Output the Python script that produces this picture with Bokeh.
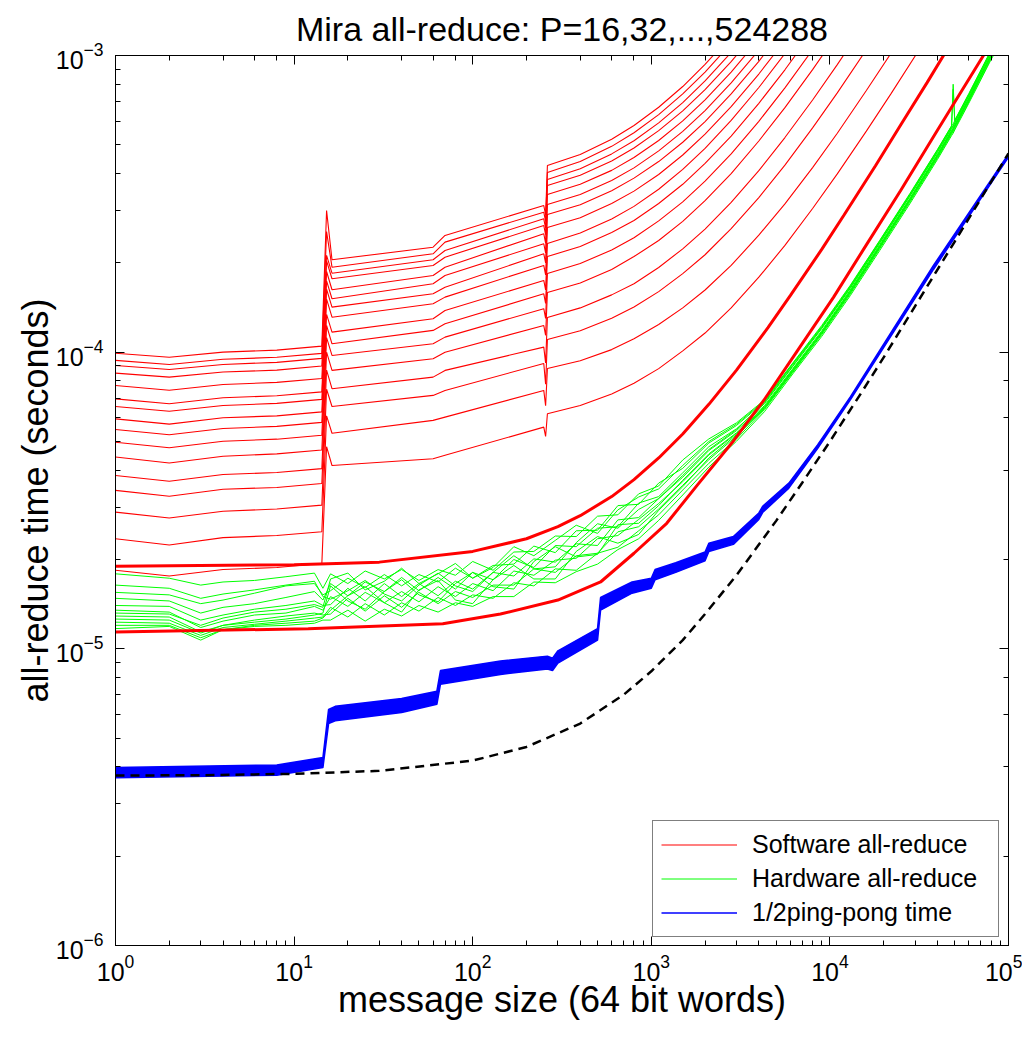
from bokeh.plotting import figure
from bokeh.models import (LogAxis, LogTicker, CustomJSTickFormatter, Legend,
                          LegendItem, Range1d)
from bokeh.embed import file_html
from bokeh.resources import INLINE

US = 1e-6  # values below are in microseconds

# ---------------- data (microseconds) ----------------
# Software all-reduce, one line per P (P = 524288 ... 16, top to bottom)
sw_x = [1, 2, 4, 8, 14.3, 15.2, 16.3, 60, 70, 250, 256, 262,
        400, 600, 800, 1100, 1500, 2000, 2800, 4000, 5600, 8000, 11000,
        16000, 22000, 32000]
sw_P524288 = [99.2, 96.1, 100.0, 101.6, 104.8, 300, 204.8, 225.9, 247.4, 312.2, 290, 425.9,
              464, 522, 581, 669, 786, 933, 1167, 1518, 1987, 2690, 3569, 5033, 6791, 9720]
sw_P262144 = [93.8, 90.9, 94.6, 96.1, 99.1, 255, 193.4, 214.6, 234.9, 296.4, 276, 403.3,
              439, 494, 549, 632, 742, 879, 1099, 1429, 1869, 2529, 3354, 4729, 6379, 9129]
sw_P131072 = [90.2, 87.4, 90.9, 92.4, 95.3, 212, 184.6, 204.8, 220.2, 281.6, 262, 382.0,
              415, 466, 516, 593, 694, 821, 1024, 1329, 1735, 2344, 3105, 4374, 5897, 8435]
sw_P65536 = [85.0, 82.4, 85.7, 87.0, 89.8, 203, 176.8, 196.0, 209.0, 267.3, 249, 364.6,
             395, 441, 488, 558, 651, 767, 953, 1233, 1605, 2163, 2862, 4025, 5421, 7748]
sw_P32768 = [77.2, 74.4, 77.8, 79.1, 81.5, 187, 162.3, 181.3, 193.4, 250.7, 233, 340.1,
             368, 410, 453, 517, 602, 709, 879, 1135, 1475, 1987, 2626, 3691, 4969, 7099]
sw_P16384 = [69.6, 67.0, 70.2, 71.3, 73.5, 174, 151.4, 170.0, 181.3, 232.0, 216, 314.7,
             340, 379, 418, 477, 555, 652, 808, 1042, 1354, 1822, 2407, 3382, 4552, 6502]
sw_P8192 = [65.6, 63.2, 66.1, 67.2, 69.3, 163, 141.8, 157.3, 165.6, 214.6, 200, 291.2,
            314, 350, 386, 439, 510, 599, 742, 956, 1240, 1668, 2202, 3093, 4161, 5942]
sw_P4096 = [59.6, 57.2, 60.1, 61.0, 62.9, 151, 131.2, 145.6, 153.3, 196.0, 182, 263.3,
            284, 317, 349, 397, 462, 543, 672, 866, 1124, 1512, 1996, 2804, 3773, 5388]
sw_P2048 = [54.9, 52.7, 55.3, 56.2, 58.0, 134, 116.8, 129.6, 138.2, 174.5, 162, 232.5,
            252, 281, 310, 354, 413, 486, 604, 780, 1015, 1367, 1807, 2541, 3421, 4889]
sw_P1024 = [49.7, 47.6, 50.1, 50.9, 52.5, 123, 106.7, 118.4, 124.6, 157.3, 146, 210.1,
            227, 253, 278, 317, 368, 433, 535, 690, 895, 1204, 1589, 2232, 3003, 4289]
sw_P512 = [44.3, 42.3, 44.6, 45.4, 46.8, 112, 97.5, 106.7, 112.4, 140.1, 130, 184.2,
           199, 221, 243, 277, 321, 377, 466, 600, 778, 1046, 1380, 1937, 2606, 3720]
sw_P256 = [38.4, 36.7, 38.7, 39.3, 40.5, 100, 86.8, 95.0, 100.0, 123.0, 114, 158.9,
           171, 190, 210, 238, 276, 324, 400, 515, 667, 896, 1182, 1659, 2231, 3185]
sw_P128 = [34.2, 32.7, 34.5, 35.0, 36.1, 87, 75.3, 82.4, 86.8, 104.0, 92, 130.9,
           141, 156, 170, 193, 223, 260, 320, 409, 529, 708, 932, 1305, 1753, 2500]
sw_P64 = [28.9, 27.6, 29.1, 29.6, 30.5, 75, 65.6, 71.5, 74.3, 91.6, 78, 110.4,
          118, 130, 142, 160, 184, 213, 261, 332, 427, 570, 748, 1046, 1402, 1997]
sw_P32 = [23.5, 22.4, 23.7, 24.1, 24.8, 61, 53.3, 58.9, 60.4, 74.3, 66, 88.1,
          93.6, 102, 111, 124, 141, 162, 196, 248, 316, 419, 547, 762, 1018, 1446]
sw_P16 = [18.4, 17.6, 18.5, 18.8, 19.4, 48, 41.5, 43.7, 44.9, 55.9, 52, 62.0,
          66.1, 72.3, 78.6, 88.0, 101, 116, 141, 179, 229, 305, 399, 556, 744, 1058]
software_lines = [sw_P524288, sw_P262144, sw_P131072, sw_P65536, sw_P32768,
                  sw_P16384, sw_P8192, sw_P4096, sw_P2048, sw_P1024, sw_P512,
                  sw_P256, sw_P128, sw_P64, sw_P32, sw_P16]

# Two smooth (thick) software-model curves
model_hi_x = [1, 10, 30, 100, 200, 300, 400, 600, 800, 1100, 1500, 2100, 3000,
              4500, 6000, 9000, 12000, 18000, 25000, 35000, 45000, 100000]
model_hi = [19.0, 19.2, 19.6, 21.3, 23.5, 25.8, 28.1, 32.6, 37.2, 44.0, 53.0,
            66.7, 87.0, 121, 155, 222, 290, 425, 585, 810, 1040, 2300]
model_lo_x = [1, 12, 68, 143, 300, 520, 800, 1220, 1800, 2890, 4250, 6500,
              10470, 16000, 24850, 40000, 72400, 100000]
model_lo = [11.39, 11.69, 12.15, 13.1, 14.6, 16.8, 21.0, 26.5, 35.5, 50.3, 68.6,
            100, 153, 230, 350, 560, 1000, 1380]

# Hardware all-reduce (green)
hw_x = [1, 2, 3, 4, 6, 9, 13, 14.5, 16, 20, 25, 32, 40, 50, 64, 80, 100, 130,
        170, 220, 290, 380, 500, 650, 850, 1100, 1500, 2100, 3000,
        4300, 6200, 9000, 13000, 19000, 28000, 40000, 48000, 49000, 50000,
        60000, 80000, 100000]
hw_1 = [17.9, 17.3, 16.4, 16.8, 17.0, 17.5, 18.0, 16.0,
        17.9, 16.6, 18.3, 17.2, 18.5, 17.0, 18.5, 17.7, 19.7, 18.4,
        21.2, 21.3, 24.0, 23.9, 28.0, 28.3, 33.3, 35.4, 43.3, 51.0, 57.8,
        69, 92, 123, 168, 238, 342, 482, 580, 800, 605, 745, 1045, 1325]
hw_2 = [15.5, 15.2, 14.2, 14.6, 15.4, 16.3, 16.6, 15.2,
        15.7, 17.3, 16.1, 17.8, 16.3, 17.8, 16.8, 18.7, 17.3, 19.1,
        19.3, 22.2, 21.1, 25.0, 25.1, 30.4, 30.7, 36.2, 40.6, 49.4, 56.6,
        68, 91, 121, 166, 236, 339, 478, 575, 770, 600, 740, 1040, 1318]
hw_3 = [14.8, 14.5, 13.2, 13.8, 14.2, 14.9, 15.6, 14.6,
        16.6, 15.1, 16.8, 15.6, 17.4, 15.7, 17.4, 15.9, 18.1, 17.1,
        20.0, 18.8, 22.3, 22.1, 25.5, 25.8, 31.0, 32.6, 39.2, 48.0, 55.2,
        67, 89.5, 120, 164, 233, 335, 471, 567, 577, 592, 729, 1022, 1296]
hw_4 = [14.0, 13.9, 12.5, 13.0, 13.6, 14.0, 14.5, 14.0,
        14.1, 16.0, 14.5, 16.6, 15.0, 16.6, 15.1, 16.9, 15.9, 18.1,
        17.6, 20.1, 19.6, 22.6, 22.3, 27.2, 27.7, 32.1, 37.9, 46.6, 54.4,
        66, 88, 118, 162, 230, 330, 465, 560, 570, 585, 720, 1010, 1280]
hw_5 = [13.5, 13.3, 11.8, 12.4, 13.0, 13.2, 13.9, 13.5,
        15.0, 13.9, 15.5, 14.3, 15.6, 14.4, 16.2, 15.0, 16.6, 15.7,
        18.3, 17.7, 19.9, 20.2, 23.5, 24.1, 27.3, 30.9, 36.6, 45.0, 53.2,
        65.5, 87, 116.5, 160, 227, 326, 460, 554, 564, 579, 712, 1000, 1267]
hw_6 = [12.9, 12.8, 11.4, 12.0, 12.5, 12.9, 13.2, 13.0,
        13.1, 14.8, 13.4, 15.1, 13.8, 15.5, 14.2, 15.6, 14.9, 16.4,
        16.4, 18.6, 18.1, 20.6, 21.0, 24.8, 25.8, 29.6, 35.6, 43.4, 52.1,
        64.5, 86, 115.5, 158.5, 225, 323, 455, 548, 558, 573, 705, 990, 1254]
hw_7 = [12.3, 12.2, 11.1, 11.8, 12.1, 12.4, 12.7, 12.8,
        13.8, 12.8, 14.2, 13.0, 14.3, 13.4, 14.9, 14.0, 15.2, 14.8,
        16.7, 16.3, 18.6, 18.4, 21.0, 22.0, 25.0, 28.3, 34.3, 42.2, 51.0,
        64, 85.5, 114.5, 157, 223, 320, 451, 543, 553, 567, 698, 980, 1242]
hw_8 = [11.7, 11.9, 10.7, 11.6, 11.9, 12.0, 12.2, 12.5,
        12.5, 13.5, 12.4, 13.6, 12.9, 14.0, 13.3, 14.3, 13.9, 15.0,
        15.0, 16.8, 16.7, 18.2, 19.3, 21.6, 23.5, 27.1, 33.0, 41.0, 50.1,
        63, 84.5, 113, 155, 220, 316, 446, 537, 547, 561, 691, 970, 1229]
hw_9 = [16.4, 16.0, 14.8, 15.3, 15.8, 16.4, 16.9, 15.0,
        14.7, 15.7, 17.0, 15.3, 14.5, 16.4, 18.0, 16.3, 15.6, 18.1,
        20.6, 18.6, 18.9, 22.8, 26.4, 25.5, 29.5, 32.1, 38.4, 47.0, 54.9,
        67.5, 90, 121, 165, 234, 336, 474, 570, 580, 595, 732, 1028, 1300]
hw_10 = [12.6, 12.5, 11.3, 12.0, 12.3, 12.6, 13.0, 13.2,
         16.3, 14.5, 13.6, 15.6, 17.1, 15.2, 14.4, 16.6, 18.1, 16.2,
         15.9, 19.7, 22.1, 20.4, 20.8, 26.2, 26.5, 30.4, 37.0, 45.4, 53.5,
         65, 87.5, 117, 161, 228, 328, 462, 557, 567, 582, 716, 1005, 1272]
hw_11 = [12.0, 12.0, 10.9, 11.6, 12.0, 12.2, 12.4, 12.7,
         13.5, 15.1, 16.2, 14.3, 13.3, 15.8, 17.0, 14.6, 14.2, 17.1,
         19.1, 17.2, 17.2, 21.3, 23.9, 22.7, 24.3, 29.3, 35.2, 44.0, 52.7,
         64.8, 86.5, 116, 159, 226, 325, 458, 551, 561, 576, 708, 995, 1260]
hw_12 = [13.2, 13.1, 12.0, 12.7, 13.3, 13.6, 14.1, 13.8,
         17.2, 18.0, 15.8, 16.9, 18.7, 16.6, 17.9, 19.4, 17.3, 18.8,
         22.1, 20.6, 23.2, 26.1, 24.5, 29.4, 32.5, 34.6, 41.5, 50.0, 57.2,
         68.5, 91.5, 122, 167, 237, 340, 480, 578, 588, 603, 738, 1035, 1310]
hardware_lines = [hw_1, hw_2, hw_3, hw_4, hw_5, hw_6, hw_7, hw_8,
                  hw_9, hw_10, hw_11, hw_12]

# 1/2 ping-pong time (blue band: lower / upper edge of the bundle)
pp_x = [1, 8, 14.5, 15.6, 17, 40, 63, 66, 143, 262, 280, 300, 500, 520, 780,
        1000, 1050, 1370, 2000, 2100, 2880, 4000, 4200, 5890, 8530, 13040,
        38000, 100000]
pp_lo = [3.68, 3.75, 3.98, 5.6, 5.72, 6.1, 6.5, 7.6, 8.2, 8.55, 8.45, 8.95,
         10.7, 13.5, 15.4, 16.0, 17.1, 18.1, 19.8, 21.3, 22.5, 27.3, 28.8,
         34.8, 47.3, 69.2, 190, 454]
pp_hi = [3.98, 4.06, 4.30, 6.25, 6.4, 6.8, 7.2, 8.45, 9.1, 9.45, 9.3, 9.85,
         11.7, 14.9, 16.8, 17.3, 18.5, 19.5, 21.2, 22.7, 23.9, 28.7, 30.2,
         36.2, 48.7, 70.8, 196, 466]

# Model of the ping-pong time (black dashed)
pm_x = [1, 3, 10, 30, 100, 200, 400, 700, 1000, 1500, 2000, 3000, 5000, 7000,
        10000, 15000, 20000, 30000, 50000, 70000, 100000]
pm = [3.74, 3.75, 3.79, 3.88, 4.2, 4.67, 5.6, 7.0, 8.4, 10.7, 13.1, 17.7,
      27.0, 36.3, 50.0, 73.0, 96.0, 143, 236, 329, 468]

title_text = "Mira all-reduce: P=16,32,...,524288"
x_label = "message size (64 bit words)"
y_label = "all-reduce time (seconds)"
legend_labels = ["Software all-reduce", "Hardware all-reduce", "1/2ping-pong time"]

FONT = "Liberation Sans"


def sec(vals):
    return [v * US for v in vals]


p = figure(x_axis_type="log", y_axis_type="log",
           x_range=Range1d(1, 1e5), y_range=Range1d(1e-6, 1e-3),
           frame_width=893, frame_height=890,
           min_border_left=115, min_border_right=14, min_border_top=55,
           min_border_bottom=80,
           output_backend="svg", toolbar_location=None, title=title_text)

p.background_fill_color = "white"
p.border_fill_color = "white"
p.outline_line_color = "black"
p.outline_line_width = 1
p.grid.visible = False

p.title.align = "center"
p.title.vertical_align = "top"
p.title.text_font = FONT
p.title.text_font_size = "34px"
p.title.text_font_style = "normal"
p.title.text_color = "black"
p.title.standoff = 12

for ax in (p.xaxis[0], p.yaxis[0]):
    ax.major_tick_in = 9
    ax.major_tick_out = 0
    ax.minor_tick_in = 5
    ax.minor_tick_out = 0
    ax.axis_line_color = "black"
    ax.major_tick_line_color = "black"
    ax.minor_tick_line_color = "black"
    ax.major_label_text_font = FONT
    ax.major_label_text_font_size = "25px"
    ax.major_label_text_color = "black"
    ax.axis_label_text_font = FONT
    ax.axis_label_text_font_size = "36px"
    ax.axis_label_text_font_style = "normal"
    ax.axis_label_text_color = "black"

p.xaxis.axis_label = x_label
p.yaxis.axis_label = y_label
p.xaxis.major_label_standoff = 8
p.yaxis.major_label_standoff = 12
p.xaxis.axis_label_standoff = -5
p.yaxis.axis_label_standoff = -3

blank = CustomJSTickFormatter(code="return ''")
for side in ("above", "right"):
    ax = LogAxis(ticker=LogTicker(), formatter=blank,
                 major_tick_in=9, major_tick_out=0,
                 minor_tick_in=5, minor_tick_out=0,
                 axis_line_color="black", major_tick_line_color="black",
                 minor_tick_line_color="black", major_label_standoff=0)
    p.add_layout(ax, side)

# software all-reduce curves
red_renderers = []
for vals in software_lines:
    red_renderers.append(p.line(sw_x, sec(vals), line_color="#ff0000",
                                line_width=1.1))

# hardware all-reduce curves
green_renderers = []
for vals in hardware_lines:
    green_renderers.append(p.line(hw_x, sec(vals), line_color="#00ff00",
                                  line_width=1.0))

# smooth software model curves
p.line(model_hi_x, sec(model_hi), line_color="#ff0000", line_width=3)
p.line(model_lo_x, sec(model_lo), line_color="#ff0000", line_width=3)

# ping-pong band
p.varea(x=pp_x, y1=sec(pp_lo), y2=sec(pp_hi), fill_color="#0000ff")
blue_r = p.line(pp_x, sec(pp_hi), line_color="#0000ff", line_width=1.5)
p.line(pp_x, sec(pp_lo), line_color="#0000ff", line_width=1.5)

# ping-pong model
p.line(pm_x, sec(pm), line_color="black", line_width=2.5, line_dash="9 6")

legend = Legend(items=[LegendItem(label=legend_labels[0], renderers=[red_renderers[0]]),
                       LegendItem(label=legend_labels[1], renderers=[green_renderers[0]]),
                       LegendItem(label=legend_labels[2], renderers=[blue_r])],
                location=(537, 8))
legend.border_line_color = "black"
legend.border_line_width = 1
legend.background_fill_color = "white"
legend.background_fill_alpha = 1
legend.label_text_font = FONT
legend.label_text_font_size = "25px"
legend.label_text_color = "black"
legend.glyph_width = 76
legend.glyph_height = 31
legend.label_height = 31
legend.label_width = 238
legend.label_standoff = 15
legend.spacing = 3
legend.padding = 8
legend.margin = 0
p.add_layout(legend)

open("out.html", "w").write(file_html(p, INLINE))
